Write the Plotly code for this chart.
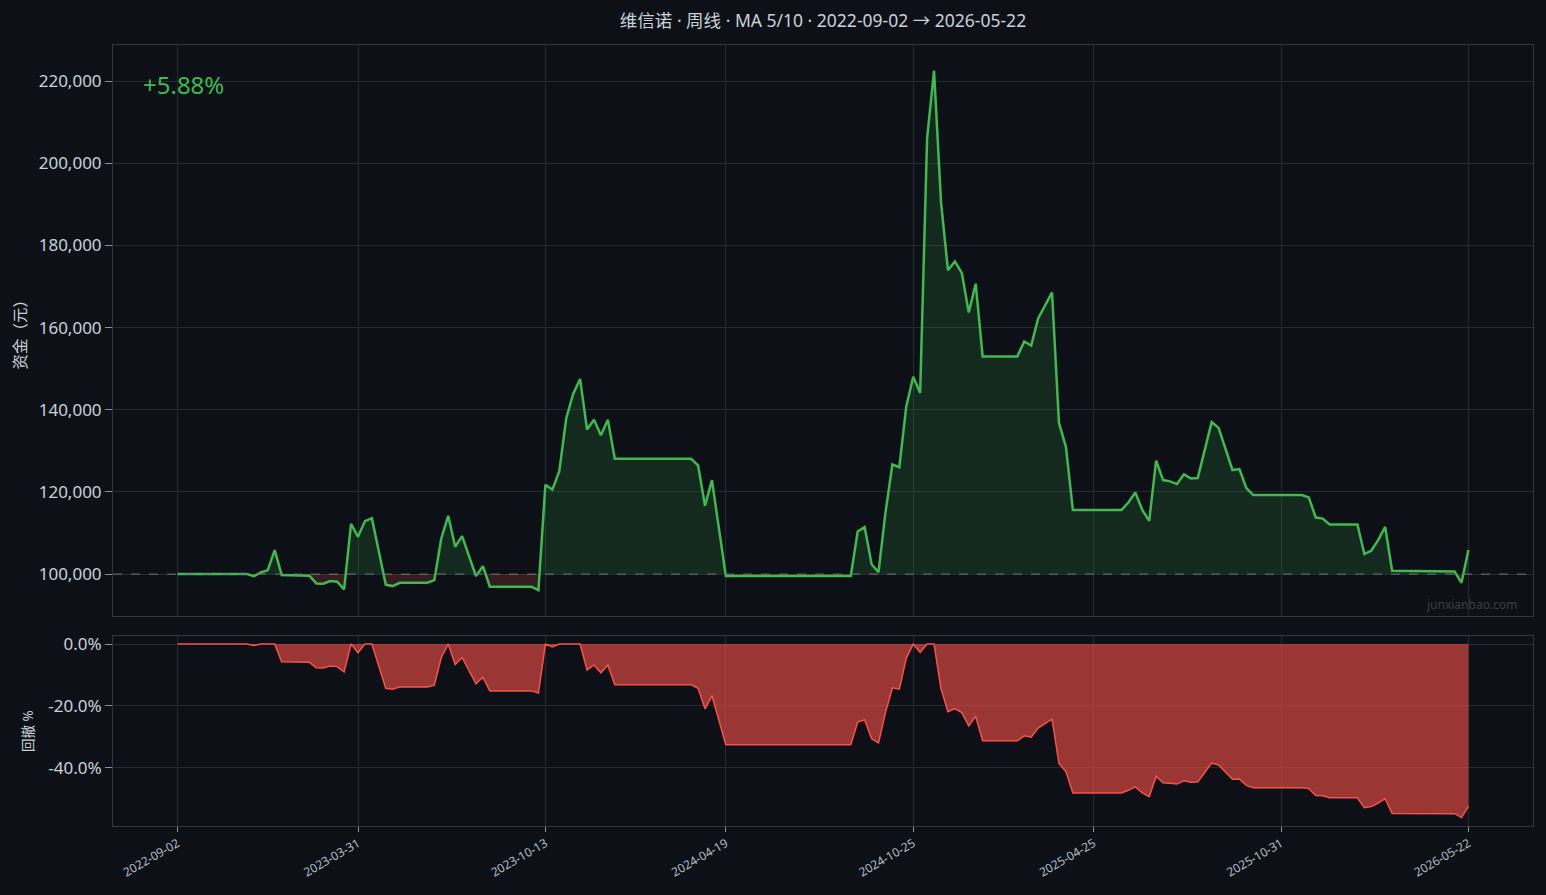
import numpy as np
import plotly.graph_objects as go

title_text = "维信诺 · 周线 · MA 5/10 · 2022-09-02 → 2026-05-22"
x_tick_labels = ["2022-09-02", "2023-03-31", "2023-10-13", "2024-04-19",
                 "2024-10-25", "2025-04-25", "2025-10-31", "2026-05-22"]
initial_capital = 100000
total_return_label = "+5.88%"
watermark = "junxianbao.com"

equity = (
    [100000] * 11 +
    [99510, 100400, 100970, 105840, 99760, 99760, 99760, 99760, 99600,
     97730, 97650, 98300, 98130, 96270, 112250, 109080, 112900, 113620,
     105300, 97400, 97080, 97890, 97890, 97890, 97890, 97890, 98540,
     108680, 114190, 106650, 109250, 104220, 99510, 101950, 96920] +
    [96920] * 6 +
    [96110, 121710, 120570, 124980, 137880, 143840, 147510, 135190,
     137560, 133800, 137560, 128080] +
    [128080] * 11 +
    [126450, 116650, 122860, 111590, 99510] +
    [99510] * 18 +
    [110370, 111440, 102390, 100490, 114900, 126670, 126010, 140820,
     148060, 144110, 206080, 222540, 190610, 173990, 176130, 173330,
     163700, 170700, 153000] +
    [153000] * 5 +
    [156620, 155630, 162220, 165350, 168560, 136800, 130950, 115600] +
    [115600] * 7 +
    [117430, 119880, 115640, 112950, 127620, 122890, 122570, 121920,
     124280, 123300, 123380, 130000, 137000, 135600, 130470, 125340,
     125580, 120940, 119230] +
    [119230] * 7 +
    [118660, 113770, 113520, 112060] +
    [112060] * 4 +
    [104890, 105700, 108310, 111490, 100810] +
    [100810] * 8 +
    [100650, 97880, 105880]
)

eq = np.array(equity, dtype=float)
n = len(eq)
idx = np.arange(n)
tick_pos = np.linspace(0, n - 1, len(x_tick_labels)).astype(int)

# drawdown derived from equity
peak = np.maximum.accumulate(np.maximum(eq, initial_capital))
dd = (eq / peak - 1.0) * 100.0

# build fill arrays with crossing points at the baseline
B = initial_capital
fx, fy = [], []
for i in range(n):
    fx.append(float(i)); fy.append(eq[i])
    if i < n - 1 and (eq[i] - B) * (eq[i + 1] - B) < 0:
        t = (B - eq[i]) / (eq[i + 1] - eq[i])
        fx.append(i + t); fy.append(B)
fx = np.array(fx); fy = np.array(fy)
up = np.maximum(fy, B)
dn = np.minimum(fy, B)
base = np.full_like(fx, B)

BG = "#0d1117"
GRID = "#242932"
FRAME = "#30363d"
GREEN = "#3fb950"
RED = "#f85149"
TXT = "#c9d1d9"
FONT = "Noto Sans, Noto Sans CJK SC, sans-serif"

fig = go.Figure()
fig.add_trace(go.Scatter(x=fx, y=base, mode="lines", line=dict(width=0),
                         hoverinfo="skip", showlegend=False, xaxis="x", yaxis="y"))
fig.add_trace(go.Scatter(x=fx, y=up, mode="lines", line=dict(width=0),
                         fill="tonexty", fillcolor="rgba(63,185,80,0.15)",
                         hoverinfo="skip", showlegend=False, xaxis="x", yaxis="y"))
fig.add_trace(go.Scatter(x=fx, y=base, mode="lines", line=dict(width=0),
                         hoverinfo="skip", showlegend=False, xaxis="x", yaxis="y"))
fig.add_trace(go.Scatter(x=fx, y=dn, mode="lines", line=dict(width=0),
                         fill="tonexty", fillcolor="rgba(248,81,73,0.18)",
                         hoverinfo="skip", showlegend=False, xaxis="x", yaxis="y"))
fig.add_trace(go.Scatter(x=idx, y=eq, mode="lines",
                         line=dict(color=GREEN, width=2.5),
                         showlegend=False, xaxis="x", yaxis="y"))
fig.add_trace(go.Scatter(x=idx, y=dd, mode="lines", fill="tozeroy",
                         fillcolor="rgba(248,81,73,0.6)",
                         line=dict(color=RED, width=1.5),
                         showlegend=False, xaxis="x2", yaxis="y2"))

xr = [-(n - 1) * 0.05, (n - 1) * 1.05]
common_x = dict(range=xr, showgrid=True, gridcolor=GRID, gridwidth=1,
                zeroline=False, showline=True, mirror=True, linecolor=FRAME,
                linewidth=1, tickvals=list(tick_pos))
fig.update_layout(
    xaxis=dict(**common_x, anchor="y", showticklabels=False, ticks="",
               ticktext=x_tick_labels, domain=[0, 1]),
    xaxis2=dict(**common_x, anchor="y2", matches="x", ticks="outside",
                ticklen=5, tickcolor="#8b949e", tickangle=-30,
                ticktext=x_tick_labels,
                tickfont=dict(size=12, color="#b1bac4", family=FONT), domain=[0, 1]),
    yaxis=dict(domain=[0.26889, 1], range=[89800, 228800], dtick=20000,
               tickformat=",d", showgrid=True, gridcolor=GRID, zeroline=False,
               showline=True, mirror=True, linecolor=FRAME, ticks="outside",
               ticklen=7, tickcolor="#8b949e",
               tickfont=dict(size=17, color=TXT, family=FONT), anchor="x"),
    yaxis2=dict(domain=[0, 0.24328], range=[-58.75, 2.6],
                tickvals=[0, -20, -40], ticktext=["0.0%", "-20.0%", "-40.0%"],
                showgrid=True, gridcolor=GRID, zeroline=False, showline=True,
                mirror=True, linecolor=FRAME, ticks="outside", ticklen=7,
                tickcolor="#8b949e", tickfont=dict(size=17, color=TXT, family=FONT),
                anchor="x2"),
    paper_bgcolor=BG, plot_bgcolor=BG,
    width=1546, height=895,
    margin=dict(l=113, r=13, t=45, b=69),
    font=dict(family=FONT, color=TXT),
    title=dict(text=title_text, x=0.5, xref="paper", y=0.977, yanchor="middle",
               font=dict(size=17.5, color=TXT, family=FONT)),
    showlegend=False,
    shapes=[dict(type="line", xref="x domain", yref="y", x0=0, x1=1, y0=B, y1=B,
                 line=dict(color="#6e7681", width=1, dash="dash"))],
    annotations=[
        dict(text=total_return_label, xref="x domain", yref="y domain", x=0.02, y=0.93,
             xanchor="left", yanchor="middle", showarrow=False,
             font=dict(size=24, color=GREEN, family=FONT)),
        dict(text=watermark, xref="x domain", yref="y domain", x=0.99, y=0.021,
             xanchor="right", yanchor="middle", showarrow=False,
             font=dict(size=12, color="#3a3f48", family=FONT)),
        dict(text="资金（元）", xref="paper", yref="y domain", x=(20 - 113) / 1420, y=0.5,
             xanchor="center", yanchor="middle", textangle=-90, showarrow=False,
             font=dict(size=15.5, color=TXT, family=FONT)),
        dict(text="回撤 %", xref="paper", yref="y2 domain", x=(28 - 113) / 1420, y=0.5,
             xanchor="center", yanchor="middle", textangle=-90, showarrow=False,
             font=dict(size=13.5, color=TXT, family=FONT)),
    ],
)

fig.write_html("out.html")
